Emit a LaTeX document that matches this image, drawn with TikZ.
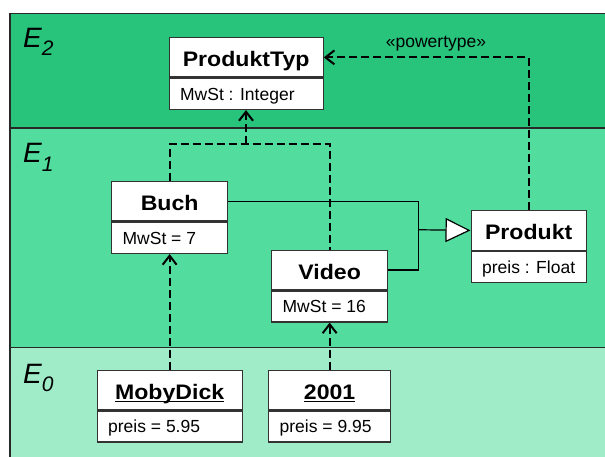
\documentclass[tikz,border=0pt]{standalone}
\usepackage{fontspec}
\setmainfont{Liberation Sans}
\newfontfamily\headfont{Liberation Sans}[FakeStretch=1.1]
\usetikzlibrary{arrows.meta}

% band colours of the metalevels
\definecolor{bandtwo}{RGB}{40,196,124}
\definecolor{bandone}{RGB}{82,220,158}
\definecolor{bandzero}{RGB}{160,236,200}
\definecolor{framecol}{RGB}{40,40,40}

% underlined instance name with the rule through the descenders
\newcommand\instname[1]{\setbox0\hbox{#1}\rlap{\rule[-3.2pt]{\wd0}{1.8pt}}\box0}
% level label E with subscript
\newcommand\levellabel[1]{\itshape E\lower8.5pt\hbox{\fontsize{21}{21}\selectfont #1}}
% left-aligned attribute line of a given width (in pt)
\newcommand\attrline[2]{\hbox to #1pt{#2\hfil}}

\tikzset{
  box/.style={draw=black!80, line width=1.3pt, fill=white, inner sep=0pt, anchor=north west},
  head/.style={box, font=\headfont\bfseries\fontsize{21}{21}\selectfont,
    text height=18.4pt, text depth=0pt, minimum height=39.5pt},
  attr/.style={box, font=\fontsize{17.5}{17.5}\selectfont,
    text height=12.5pt, text depth=0pt, minimum height=31pt, inner xsep=11pt},
  level/.style={anchor=base west, inner sep=0pt, font=\fontsize{28}{28}\selectfont},
  bandline/.style={draw=framecol, line width=1.5pt},
  dep/.style={line width=2pt, dash pattern=on 8pt off 4pt},
  deparrow/.style={dep, -{Straight Barb[length=9pt,width=14pt]}},
  gen/.style={line width=1.2pt},
}

\begin{document}
\begin{tikzpicture}[x=1pt, y=-1pt]
\useasboundingbox (0,0) rectangle (605,457);

% metalevel bands
\fill[bandtwo]  (10,13.3)  rectangle (605,128);
\fill[bandone]  (10,128)   rectangle (605,347.5);
\fill[bandzero] (10,347.5) rectangle (605,457);
\draw[bandline] (605,13.3) -- (10,13.3) -- (10,457);
\draw[bandline] (10,128) -- (605,128);
\draw[bandline] (10,347.5) -- (605,347.5);

\node[level] (e2) at (23,47.3) {\levellabel{2}};
\node[level] (e1) at (23,162.7) {\levellabel{1}};
\node[level] (e0) at (23,383.3) {\levellabel{0}};

% classes
\node[head, minimum width=154pt] (ptyp) at (168.5,37) {ProduktTyp};
\node[attr] (ptypA) at (ptyp.south west) {\attrline{132}{MwSt : Integer}};

\node[head, minimum width=116pt] (buch) at (111,181) {Buch};
\node[attr] (buchA) at (buch.south west) {\attrline{94}{MwSt = 7}};

\node[head, minimum width=116pt] (video) at (271,249.5) {Video};
\node[attr] (videoA) at (video.south west) {\attrline{94}{MwSt = 16}};

\node[head, minimum width=115pt] (produkt) at (470.5,210) {Produkt};
\node[attr] (produktA) at (produkt.south west) {\attrline{93}{preis : Float}};

% objects
\node[head, minimum width=145pt] (moby) at (96.5,369.5) {\instname{MobyDick}};
\node[attr] (mobyA) at (moby.south west) {\attrline{123}{preis = 5.95}};

\node[head, minimum width=122pt] (odyssey) at (268,369.5) {\instname{2001}};
\node[attr] (odysseyA) at (odyssey.south west) {\attrline{100}{preis = 9.95}};

% instance-of dependencies
\coordinate (fork) at (246,144);
\draw[dep] (buch.north) |- (fork) -| (video.north);
\draw[deparrow] (fork) -- (fork |- ptypA.south);
\draw[deparrow] (moby.north) -- (buchA.south);
\draw[deparrow] (odyssey.north) -- (videoA.south);

% powertype dependency
\draw[deparrow] (produkt.north) |- (ptyp.east);
\node[anchor=base, inner sep=0pt, font=\fontsize{17.5}{17.5}\selectfont] (pwlabel) at (436,48) {«powertype»};

% generalization
\coordinate (gen) at (418.3,229.75);
\draw[gen] (buch.east) -| (gen);
\draw[gen] (video.east) -| (gen);
\draw[gen, -{Triangle[length=25pt,width=24pt,fill=white]}] (gen) -- (produkt.west);
\end{tikzpicture}
\end{document}
